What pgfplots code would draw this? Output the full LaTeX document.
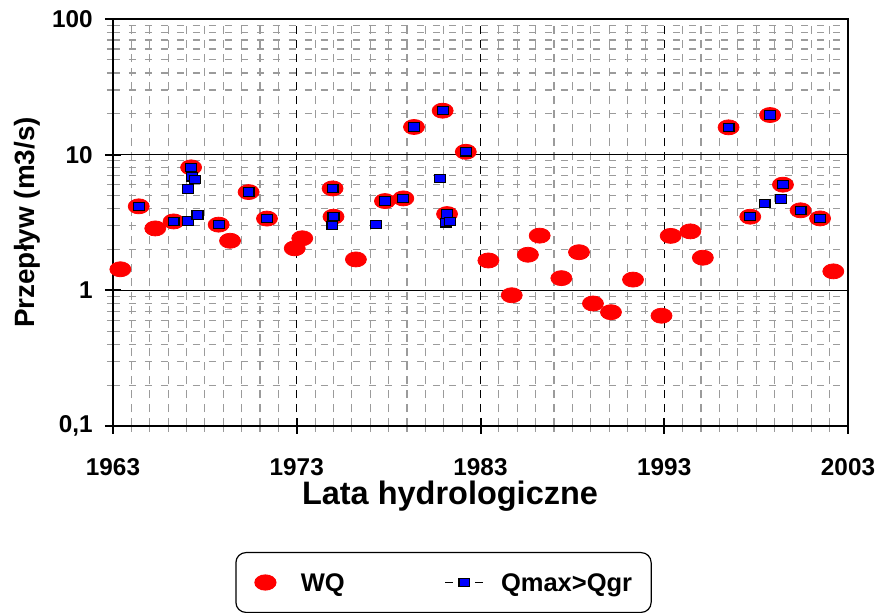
\documentclass[border=0pt]{standalone}
\usepackage{fontspec}
\setmainfont{Liberation Sans}
\usepackage{pgfplots}
\pgfplotsset{compat=1.18}
\definecolor{gridgray}{RGB}{155,155,155}
\definecolor{qblue}{RGB}{0,0,255}
\begin{document}
\begin{tikzpicture}
\begin{semilogyaxis}[
  scale only axis, width=367.5bp, height=203.5bp,
  at={(0,0)}, anchor=south west,
  xmin=1963, xmax=2003, ymin=0.1, ymax=100,
  xtick={1963,1973,1983,1993,2003},
  xticklabels={1963,1973,1983,1993,2003},
  minor xtick={1964,1965,...,2002},
  ytick={0.1,1,10,100}, yticklabels={{0,1},1,10,100},
  minor ytick={0.2,0.3,0.4,0.5,0.6,0.7,0.8,0.9,2,3,4,5,6,7,8,9,20,30,40,50,60,70,80,90},
  xtick pos=left, ytick pos=left,
  tick align=center,
  major tick length=8bp, minor tick length=6bp,
  major tick style={black, line width=1bp},
  minor tick style={gridgray, line width=0.6bp},
  axis line style={black, line width=1bp},
  grid=both,
  major x grid style={black, dash pattern=on 4bp off 3bp, line width=0.6bp},
  minor x grid style={gridgray, dash pattern=on 4bp off 3bp, line width=0.6bp},
  major y grid style={black, solid, line width=0.6bp},
  minor y grid style={gridgray, dash pattern=on 3.5bp off 4.5bp, line width=0.6bp},
  /pgf/number format/assume math mode=true,
  ticklabel style={font=\fontsize{12.2}{14}\selectfont\bfseries},
  xticklabel style={anchor=center, yshift=-16.5bp},
  yticklabel style={anchor=east, xshift=-6bp, inner sep=0pt},
  xlabel={Lata hydrologiczne}, ylabel={Przepływ (m3/s)},
  xlabel style={font=\fontsize{16.3}{18}\selectfont\bfseries, at={(axis description cs:0.4585,-0.172)}, anchor=center},
  ylabel style={font=\fontsize{14}{16}\selectfont\bfseries, at={(axis description cs:-0.117,0.5)}, anchor=center},
  legend columns=2,
  legend style={at={(0.4497,-0.3845)}, anchor=center, draw=black, line width=0.6bp,
    rounded corners=5bp, font=\fontsize{12.8}{15}\selectfont\bfseries,
    inner xsep=9.5bp, inner ysep=10.5bp, nodes={inner sep=0pt, text depth=0pt},
    /tikz/every odd column/.append style={column sep=8.5bp},
    /tikz/every even column/.append style={column sep=50bp}},
]
\addplot[only marks, mark=*, mark size=3.75bp, mark options={xscale=1.4, fill=red, draw=red},
  legend image code/.code={\draw[mark repeat=2,mark phase=2] plot coordinates {(0bp,0bp) (9.5bp,0bp) (19bp,0bp)};}]
coordinates {
(1963.4,1.43)(1964.4,4.16)(1965.3,2.86)(1966.3,3.22)(1967.25,8.06)(1968.75,3.05)(1969.37,2.32)(1970.38,5.3)(1971.38,3.38)(1972.89,2.04)(1973.3,2.42)(1974.95,5.64)(1975.0,3.49)(1976.22,1.69)(1977.8,4.55)(1978.8,4.76)(1979.38,16.0)(1980.94,21.1)(1981.18,3.65)(1982.2,10.5)(1983.43,1.66)(1984.7,0.92)(1985.58,1.83)(1986.22,2.53)(1987.4,1.23)(1988.36,1.91)(1989.12,0.80)(1990.1,0.69)(1991.3,1.2)(1992.85,0.65)(1993.35,2.52)(1994.42,2.72)(1995.1,1.74)(1996.5,15.9)(1997.68,3.49)(1998.76,19.6)(1999.46,6.01)(2000.42,3.89)(2001.48,3.39)(2002.2,1.38)
};
\addlegendentry{\hspace{4bp}WQ}
\addplot[only marks, mark=square*, mark size=2.1bp, mark options={xscale=1.3, fill=qblue, draw=black, line width=0.6bp},
  legend image code/.code={\draw[solid, black, line width=0.6bp] (0bp,0bp)--(4bp,0bp) (15bp,0bp)--(19bp,0bp);
    \draw[mark repeat=2,mark phase=2] plot coordinates {(0bp,0bp) (9.5bp,0bp) (19bp,0bp)};}]
coordinates {
(1964.4,4.16)(1966.3,3.22)(1967.1,3.24)(1967.6,3.59)(1967.25,8.06)(1967.3,6.88)(1967.45,6.58)(1967.1,5.58)(1968.75,3.05)(1970.38,5.3)(1971.38,3.38)(1974.95,5.64)(1975.0,3.49)(1974.94,3.0)(1977.3,3.06)(1977.8,4.55)(1978.8,4.76)(1979.38,16.0)(1980.94,21.1)(1980.8,6.69)(1981.18,3.65)(1981.1,3.15)(1981.35,3.21)(1982.2,10.5)(1996.5,15.9)(1997.68,3.49)(1998.46,4.38)(1998.76,19.6)(1999.34,4.71)(1999.46,6.01)(2000.42,3.89)(2001.48,3.39)
};
\addlegendentry{Qmax>Qgr}
\end{semilogyaxis}
\pgfresetboundingbox
\path (-56.5bp,-93.5bp) rectangle (381bp,213bp);
\end{tikzpicture}
\end{document}
